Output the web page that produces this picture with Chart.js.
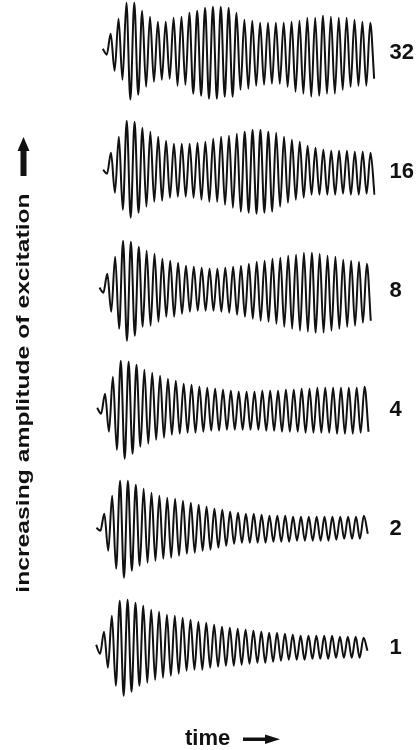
<!DOCTYPE html>
<html>
<head>
<meta charset="utf-8">
<script src="https://cdn.jsdelivr.net/npm/chart.js@4.4.1/dist/chart.umd.min.js"></script>
<style>
  html, body { margin: 0; background: #fff; }
  #wrap { width: 420px; height: 750px; position: relative; }
</style>
</head>
<body>
<div id="wrap"><canvas id="chart"></canvas></div>
<script>
// excitation levels, bottom row first
const levels = ["1", "2", "4", "8", "16", "32"];

// time of the first peak of each trace, in cycles (relative to trace "1")
const onsets = [0, 0.04, 0.13, 0.42, 0.89, 0.85];

// turning points of each trace:
// rest, first dip, then peak / trough pairs (one pair per cycle)
const trace1 = [3, -6, 16, -20, 32, -38, 47, -48, 48, -44, 45, -38, 42, -35, 38, -32, 36, -30, 33, -28,
  32, -26, 30, -23, 28, -22, 26, -22, 25, -20, 23, -19, 21, -18, 20, -18, 19, -17, 18, -16,
  17, -15, 16, -15, 15, -14, 15, -13, 14, -12, 13, -12, 12, -12, 12, -11, 12, -11, 12, -11,
  12, -10, 11, -10, 11, -10, 11, -10, 10, -3];
const trace2 = [1, -2, 15, -22, 33, -40, 48, -49, 48, -42, 44, -37, 40, -34, 36, -32, 33, -30, 31, -29,
  30, -27, 28, -25, 26, -24, 24, -22, 22, -21, 20, -19, 19, -17, 17, -15, 16, -14, 15, -14,
  15, -14, 14, -14, 13, -13, 13, -13, 13, -13, 12, -12, 12, -12, 12, -12, 12, -12, 12, -12,
  12, -11, 12, -10, 12, -10, 12, -10, 13, -5];
const trace4 = [2, -4, 16, -22, 33, -40, 49, -49, 48, -44, 45, -37, 40, -34, 37, -30, 34, -28, 31, -25,
  29, -24, 26, -23, 25, -23, 23, -22, 22, -21, 21, -21, 20, -20, 19, -20, 18, -20, 18, -20,
  18, -20, 19, -21, 19, -21, 19, -22, 20, -22, 20, -22, 21, -23, 21, -23, 22, -23, 22, -23,
  22, -24, 22, -24, 22, -24, 22, -23, 23, -22];
const trace8 = [3, -2, 17, -21, 34, -38, 50, -50, 49, -45, 44, -36, 40, -35, 37, -31, 32, -26, 30, -26,
  28, -23, 25, -21, 24, -20, 23, -20, 22, -20, 22, -21, 23, -22, 24, -24, 25, -26, 27, -28,
  29, -30, 30, -31, 32, -33, 33, -36, 35, -38, 36, -40, 38, -41, 38, -42, 37, -42, 35, -40,
  34, -38, 31, -36, 30, -35, 29, -32, 27, -30];
const trace16 = [2, -2, 19, -21, 35, -38, 51, -46, 50, -41, 44, -35, 40, -30, 35, -29, 31, -26, 28, -25,
  28, -25, 28, -26, 29, -28, 30, -30, 33, -30, 35, -33, 36, -36, 38, -40, 40, -41, 42, -42,
  42, -41, 40, -40, 39, -35, 35, -31, 32, -28, 30, -26, 26, -23, 24, -23, 22, -23, 21, -23,
  21, -22, 21, -23, 20, -23, 20, -22, 19, -23];
const trace32 = [4, -2, 19, -18, 34, -27, 50, -47, 50, -42, 42, -34, 36, -29, 31, -27, 31, -26, 35, -33,
  36, -32, 40, -41, 42, -43, 45, -46, 46, -46, 46, -44, 45, -44, 40, -37, 33, -36, 32, -33,
  30, -32, 30, -31, 30, -31, 30, -34, 31, -39, 32, -41, 35, -44, 35, -43, 37, -41, 36, -41,
  35, -37, 35, -34, 33, -33, 31, -33, 30, -26];

const traces = [trace1, trace2, trace4, trace8, trace16, trace32];

const ROW = 119; // figure units per row

const datasets = traces.map((pts, i) => ({
  label: levels[i],
  data: pts.map((v, j) => ({ x: onsets[i] + (j - 2) * 0.5, y: i + v / ROW })),
  borderColor: "#111",
  borderWidth: 2,
  pointRadius: 0,
  cubicInterpolationMode: "monotone",
  fill: false,
}));

// captions and arrows drawn on top
const captions = {
  id: "captions",
  afterDraw(chart) {
    const ctx = chart.ctx;
    ctx.save();
    ctx.fillStyle = "#111";
    ctx.translate(24, 393);
    ctx.rotate(-Math.PI / 2);
    ctx.scale(1.3, 1);
    ctx.font = 'bold 19px "Liberation Sans", Arial, sans-serif';
    ctx.textAlign = "center";
    ctx.textBaseline = "middle";
    ctx.fillText("increasing amplitude of excitation", 0, 0);
    ctx.restore();

    ctx.save();
    ctx.fillStyle = "#111";
    // upward arrow
    ctx.fillRect(20.5, 149, 6, 27);
    ctx.beginPath();
    ctx.moveTo(17.5, 151);
    ctx.lineTo(29.5, 151);
    ctx.lineTo(23.5, 137);
    ctx.closePath();
    ctx.fill();

    ctx.font = 'bold 22px "Liberation Sans", Arial, sans-serif';
    ctx.textAlign = "left";
    ctx.textBaseline = "alphabetic";
    ctx.fillText("time", 185, 745);
    // rightward arrow
    ctx.fillRect(243, 737.5, 25, 3.5);
    ctx.beginPath();
    ctx.moveTo(265, 734.5);
    ctx.lineTo(265, 744);
    ctx.lineTo(280, 739.2);
    ctx.closePath();
    ctx.fill();
    ctx.restore();
  },
};

new Chart(document.getElementById("chart"), {
  type: "line",
  data: { datasets },
  options: {
    responsive: true,
    maintainAspectRatio: false,
    animation: false,
    layout: { padding: { left: 90, right: 6, top: 0, bottom: 0 } },
    plugins: { legend: { display: false }, tooltip: { enabled: false } },
    scales: {
      x: { type: "linear", display: false, min: -1.78, max: 34.52 },
      y: {
        type: "linear",
        position: "right",
        min: -0.859,
        max: 5.443,
        afterBuildTicks: (axis) => { axis.ticks = levels.map((_, i) => ({ value: i })); },
        afterFit: (axis) => {
          axis.width = 38.5;
          axis.paddingTop = 0;
          axis.paddingBottom = 0;
        },
        grid: { display: false, drawTicks: false },
        border: { display: false },
        ticks: {
          padding: 14,
          color: "#111",
          font: { family: '"Liberation Sans", Arial, sans-serif', size: 22, weight: "bold" },
          callback: (value, index) => levels[index],
        },
      },
    },
  },
  plugins: [captions],
});
</script>
</body>
</html>
